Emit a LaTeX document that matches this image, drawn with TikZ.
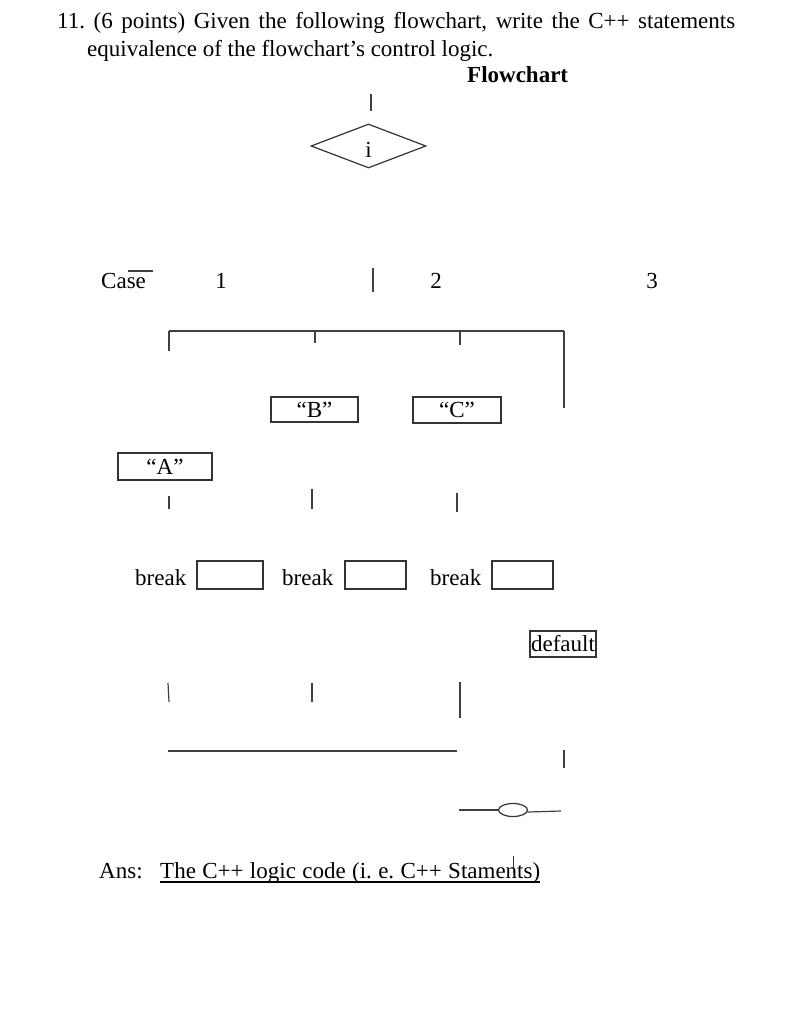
\documentclass[tikz,border=0pt]{standalone}
\usepackage{fontspec}
\setmainfont{Liberation Serif}
\usetikzlibrary{shapes.geometric}
\frenchspacing
\begin{document}
\begin{tikzpicture}[x=1pt,y=-1pt,
  every node/.style={font=\fontsize{23}{27}\selectfont, inner sep=0pt},
  txt/.style={anchor=base west},
  numtxt/.style={anchor=base},
  box/.style={draw=black!80, line width=1.2pt, inner sep=0pt},
  ln/.style={draw=black!75, line width=1.2pt}]
\useasboundingbox (0,0) rectangle (792,1024);
% question text
\node[txt] (q1) at (57,29) {\hbox to 678pt{11. (6 points) Given the following flowchart, write the C++ statements}};
\node[txt] (q2) at (87,57) {equivalence of the flowchart’s control logic.};
\node[txt, font=\fontsize{23}{27}\selectfont\bfseries] (title) at (467,83) {Flowchart};
% top stub and diamond
\coordinate (t1) at (371,94); \coordinate (t2) at (371,111);
\draw[ln] (t1) -- (t2);
\node[diamond, box, minimum width=115pt, minimum height=44pt] (dia) at (368.5,146) {};
\node (ilab) at (368.5,150) {i};
% case row
\node[txt] (case) at (101,288) {Case};
\coordinate (ov1) at (128,271); \coordinate (ov2) at (153,271);
\draw[ln] (ov1) -- (ov2);
\node[numtxt] (n1) at (221,288) {1};
\node[numtxt] (n2) at (436,288) {2};
\node[numtxt] (n3) at (652,288) {3};
\coordinate (bar1) at (373,268); \coordinate (bar2) at (373,292);
\draw[ln] (bar1) -- (bar2);
% branch line
\coordinate (h1) at (169,331); \coordinate (h2) at (315,331); \coordinate (h3) at (460,331); \coordinate (h4) at (564,331);
\draw[ln] (h1) -- (h4);
\draw[ln] (h1) -- ++(0,20);
\draw[ln] (h2) -- ++(0,12);
\draw[ln] (h3) -- ++(0,14);
\draw[ln] (h4) -- ++(0,77);
% boxes
\node[box, minimum width=87pt, minimum height=25pt] (B) at (314.5,409.5) {“B”};
\node[box, minimum width=88pt, minimum height=26pt] (C) at (457,410) {“C”};
\node[box, minimum width=94pt, minimum height=27pt] (A) at (165,466.5) {“A”};
% small stubs
\coordinate (s1a) at (169,496); \coordinate (s1b) at (169,509);
\coordinate (s2a) at (312,489); \coordinate (s2b) at (312,509);
\coordinate (s3a) at (457,493); \coordinate (s3b) at (457,512);
\draw[ln] (s1a) -- (s1b);
\draw[ln] (s2a) -- (s2b);
\draw[ln] (s3a) -- (s3b);
% break row
\node[txt] (br1) at (135,585) {break};
\node[txt] (br2) at (282,585) {break};
\node[txt] (br3) at (430,585) {break};
\node[box, minimum width=66pt, minimum height=28pt] (e1) at (230,575) {};
\node[box, minimum width=61pt, minimum height=28pt] (e2) at (375.5,575) {};
\node[box, minimum width=61pt, minimum height=28pt] (e3) at (522.5,575) {};
% default
\node[box, minimum width=66pt, minimum height=26pt] (def) at (563,644) {};
\node (deftxt) at (563,644) {default};
% lower stubs
\coordinate (l1a) at (168,683); \coordinate (l1b) at (169,702);
\coordinate (l2a) at (312,683); \coordinate (l2b) at (312,702);
\coordinate (l3a) at (460,682); \coordinate (l3b) at (460,718);
\draw[ln] (l1a) -- (l1b);
\draw[ln] (l2a) -- (l2b);
\draw[ln] (l3a) -- (l3b);
\coordinate (m1) at (168,751); \coordinate (m2) at (457,751);
\draw[ln] (m1) -- (m2);
\coordinate (d1) at (564,750); \coordinate (d2) at (564,768);
\draw[ln] (d1) -- (d2);
% terminal
\node[ellipse, box, minimum width=29pt, minimum height=13pt] (end) at (513,810) {};
\coordinate (el) at (459,810); \coordinate (er) at (561,811);
\draw[ln] (el) -- (end.west);
\draw[ln] (end.-8) -- (er);
% answer
\node[txt] (ans) at (99,878) {Ans:};
\node[txt] (anstxt) at (160,878) {\hbox to 380pt{The C++ logic code (i. e. C++ Staments)}};
\coordinate (u1) at (160,882); \coordinate (u2) at (540,882);
\draw[draw=black, line width=1.1pt] (u1) -- (u2);
\coordinate (k1) at (513,856); \coordinate (k2) at (513,873);
\draw[draw=black!80, line width=0.9pt] (k1) -- (k2);
\end{tikzpicture}
\end{document}
